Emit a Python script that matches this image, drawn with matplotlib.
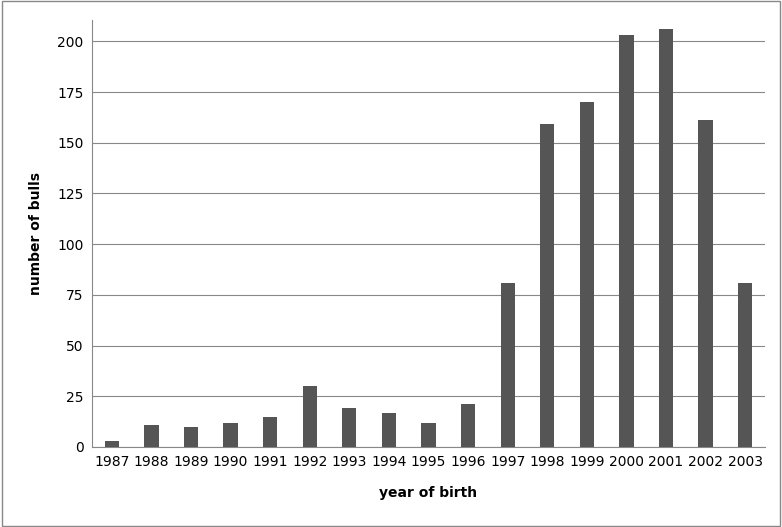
import matplotlib.pyplot as plt
import numpy as np

years = ["1987", "1988", "1989", "1990", "1991", "1992", "1993", "1994", "1995",
         "1996", "1997", "1998", "1999", "2000", "2001", "2002", "2003"]
bulls = [3, 11, 10, 12, 15, 30, 19, 17, 12, 21, 81, 159, 170, 203, 206, 161, 81]

fig = plt.figure(figsize=(7.82, 5.27), dpi=100)
ax = fig.add_axes([92 / 782, 80 / 527, 673 / 782, 427 / 527])

x = np.arange(len(years))
bars = ax.bar(x, bulls, width=0.36, color="#555555", zorder=3)
ax.set_xlim(-0.5, len(years) - 0.5)
ax.set_ylim(0, 210.5)
ax.set_yticks(range(0, 201, 25))
ax.yaxis.grid(True, color="#888888", linewidth=0.8, zorder=0)
ax.set_xticks(x)
ax.set_xticklabels(years)
ax.tick_params(axis="both", labelsize=10, length=0, pad=6)
for side in ["top", "right"]:
    ax.spines[side].set_visible(False)
ax.spines["left"].set_color("#888888")
ax.spines["bottom"].set_color("#888888")
ax.set_xlabel("year of birth", fontsize=10, fontweight="bold", labelpad=12)
ax.set_ylabel("number of bulls", fontsize=10, fontweight="bold", labelpad=10)

fig.patches.append(plt.Rectangle((0.002, 0.002), 0.996, 0.996, transform=fig.transFigure,
                                 fill=False, edgecolor="#888888", linewidth=1))
fig.savefig("out.png", dpi=100)
